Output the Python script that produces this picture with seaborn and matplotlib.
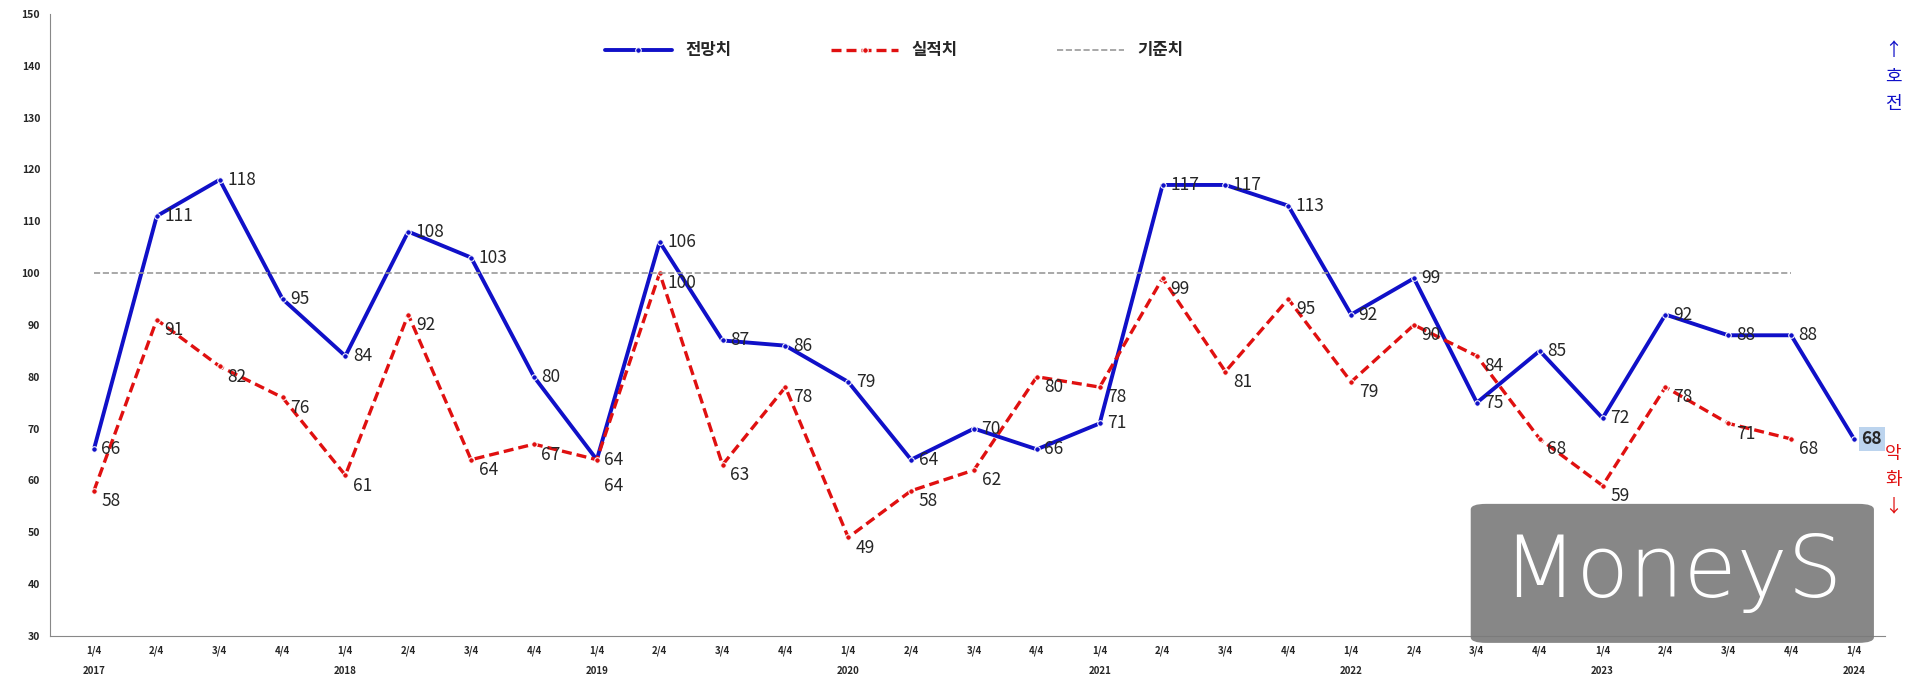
import matplotlib.pyplot as plt
import seaborn as sns
import pandas as pd
from matplotlib.patches import FancyBboxPatch

# 분기별 BSI 전망치 / 실적치
quarters = ['1/4', '2/4', '3/4', '4/4'] * 7 + ['1/4']
years = ['2017', '', '', '', '2018', '', '', '', '2019', '', '', '', '2020', '', '', '',
         '2021', '', '', '', '2022', '', '', '', '2023', '', '', '', '2024']
forecast = [66, 111, 118, 95, 84, 108, 103, 80, 64, 106, 87, 86, 79, 64, 70, 66, 71,
            117, 117, 113, 92, 99, 75, 85, 72, 92, 88, 88, 68]
actual = [58, 91, 82, 76, 61, 92, 64, 67, 64, 100, 63, 78, 49, 58, 62, 80, 78,
          99, 81, 95, 79, 90, 84, 68, 59, 78, 71, 68]
baseline = 100

sns.set_style('white')
plt.rcParams['font.family'] = ['Noto Sans CJK KR', 'DejaVu Sans']

df_f = pd.DataFrame({'x': range(len(forecast)), 'v': forecast})
df_a = pd.DataFrame({'x': range(len(actual)), 'v': actual})

fig = plt.figure(figsize=(19.2, 6.95), dpi=100)
ax = fig.add_axes([0.026, 0.085, 0.956, 0.895])

sns.lineplot(data=df_f, x='x', y='v', ax=ax, color='#1010c8', lw=2.8,
             marker='o', markersize=4, label='전망치')
sns.lineplot(data=df_a, x='x', y='v', ax=ax, color='#e01010', lw=2.4,
             linestyle=(0, (3, 1.5)), marker='o', markersize=4, label='실적치')
ax.plot([0, 27], [baseline, baseline], color='#999999', lw=1.2, ls='--', label='기준치')

for i, v in enumerate(forecast[:-1]):
    ax.text(i + 0.12, v, str(v), fontsize=12.5, va='center', ha='left')
ax.text(len(forecast) - 1 + 0.12, forecast[-1], str(forecast[-1]), fontsize=12.5,
        fontweight='bold', va='center', ha='left',
        bbox=dict(boxstyle='square,pad=0.15', fc='#bcd4ee', ec='none'))
for i, v in enumerate(actual):
    dy = -5 if (i < len(forecast) and abs(forecast[i] - v) < 3) else -2
    ax.text(i + 0.12, v + dy, str(v), fontsize=12.5, va='center', ha='left')

ax.set_xlim(-0.7, 28.5)
ax.set_ylim(30, 150)
ax.set_yticks(range(30, 151, 10))
ax.set_xticks(range(len(quarters)))
ax.set_xticklabels([q + '\n' + y for q, y in zip(quarters, years)],
                   fontsize=7, fontweight='bold', linespacing=2.2)
ax.tick_params(axis='y', labelsize=7.5)
for lbl in ax.get_yticklabels():
    lbl.set_fontweight('bold')
ax.set_xlabel('')
ax.set_ylabel('')
for s in ['top', 'right']:
    ax.spines[s].set_visible(False)
ax.spines['left'].set_color('#888888')
ax.spines['bottom'].set_color('#888888')

ax.legend(loc='upper center', bbox_to_anchor=(0.46, 0.98), ncol=3, frameon=False,
          handlelength=4, columnspacing=6,
          prop={'weight': 'bold', 'size': 12})

fig.text(0.986, 0.94, '↑\n호\n전', color='#1010c8', fontsize=13, ha='center',
         va='top', linespacing=1.6)
fig.text(0.986, 0.36, '악\n화\n↓', color='#e01010', fontsize=13, ha='center',
         va='top', linespacing=1.6)

# 워터마크
box = FancyBboxPatch((0.766, 0.075), 0.21, 0.2, boxstyle='round,pad=0,rounding_size=0.008',
                     transform=fig.transFigure, fc='#7a7a7a', ec='none', alpha=0.9)
fig.patches.append(box)
fig.text(0.871, 0.175, 'MoneyS', color='white', fontsize=62, ha='center', va='center',
         family='DejaVu Sans', fontweight='light')

fig.savefig('out.png', dpi=100)
